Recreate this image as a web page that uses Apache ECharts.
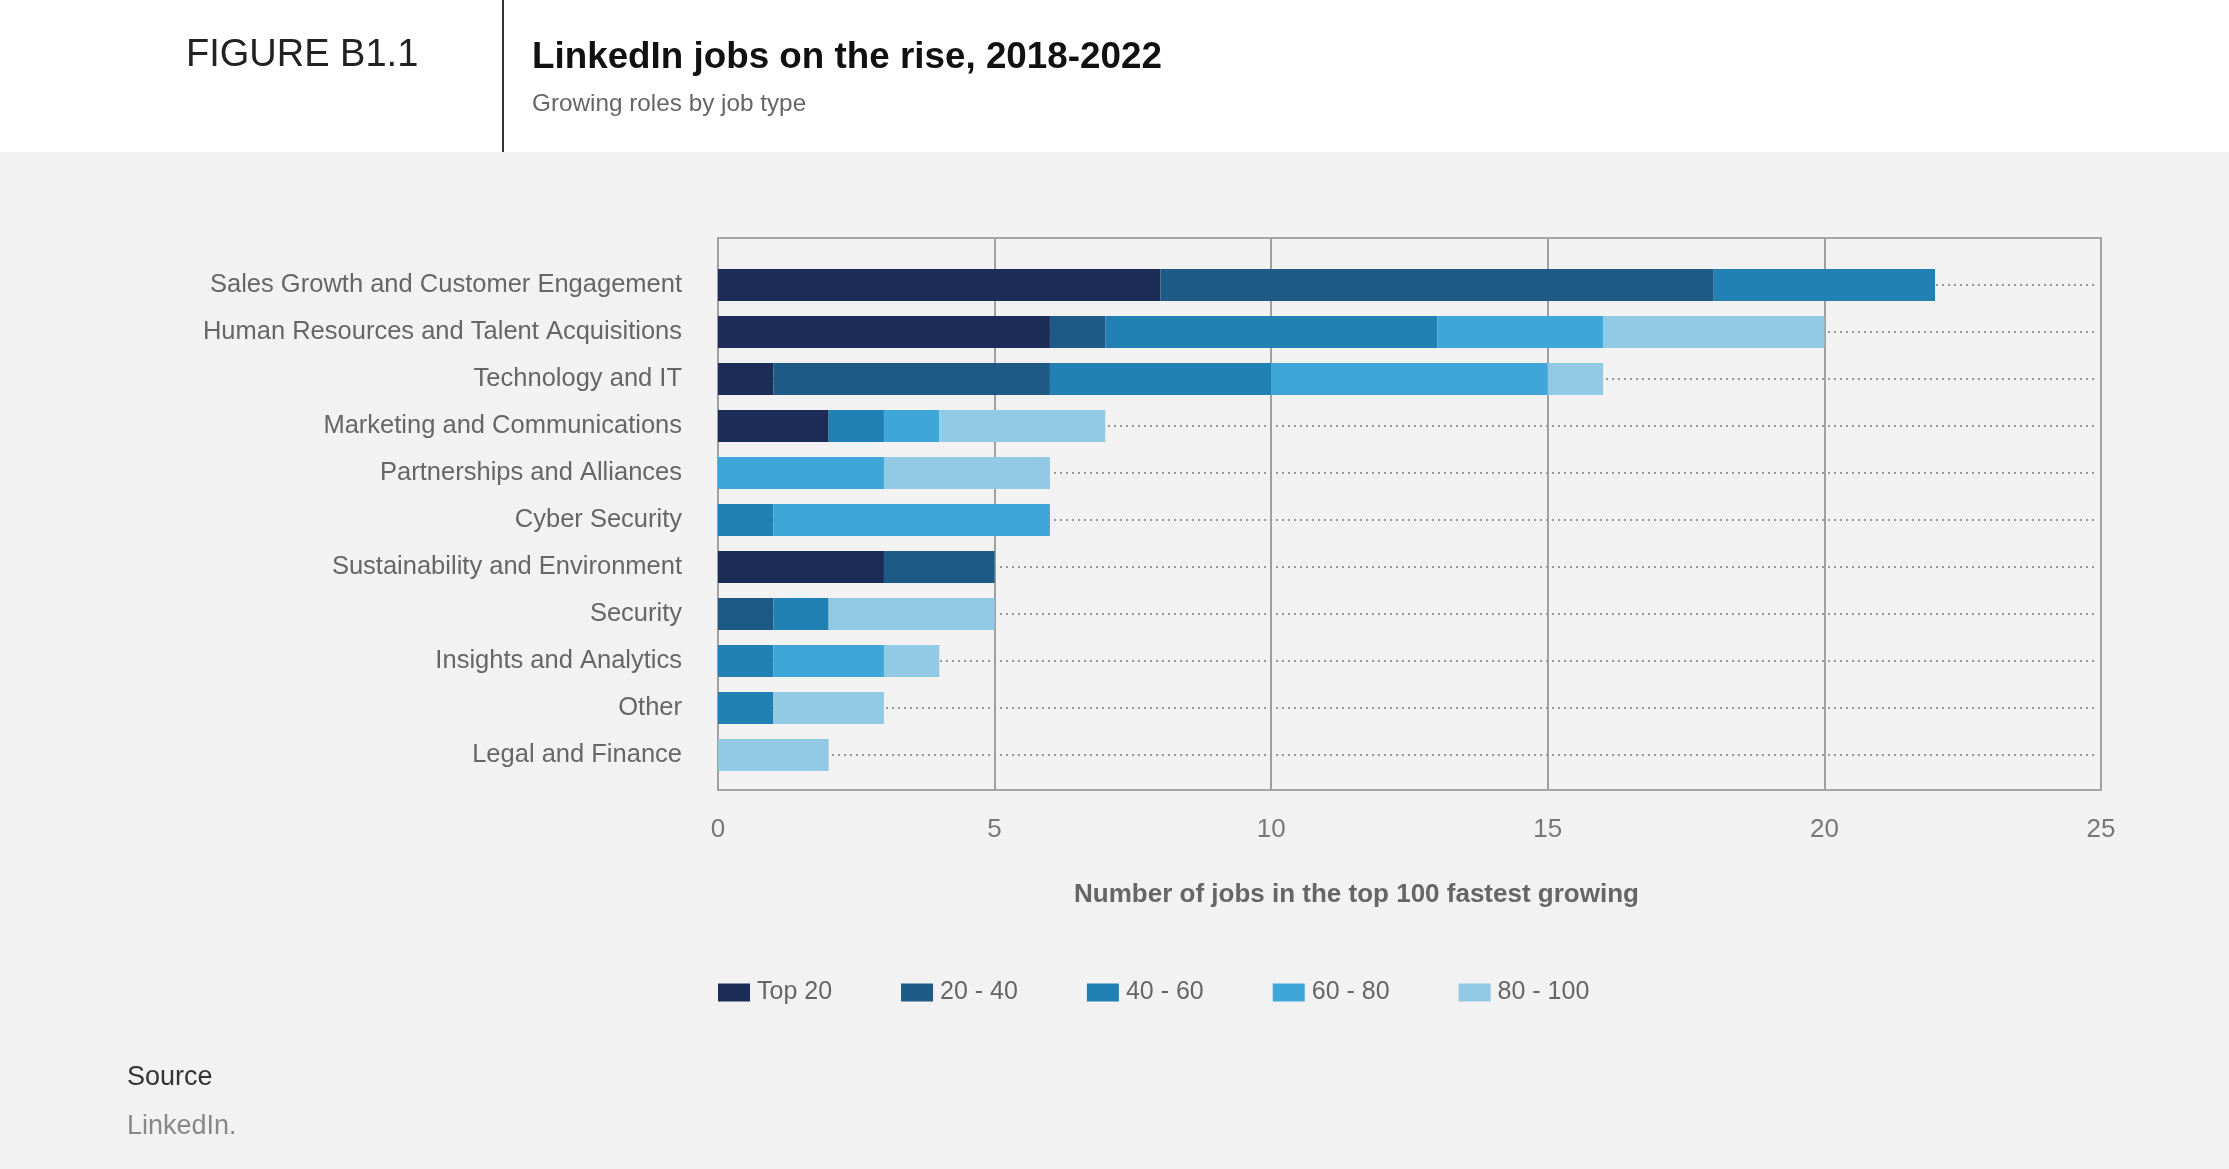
<!DOCTYPE html>
<html>
<head>
<meta charset="utf-8">
<script src="https://cdn.jsdelivr.net/npm/echarts@6/dist/echarts.min.js"></script>
<style>
html,body{margin:0;padding:0;background:#f2f2f2;}
#chart{width:2229px;height:1169px;}
</style>
</head>
<body>
<div id="chart"></div>
<script>
// ---- Data ----
const categories = [
  "Sales Growth and Customer Engagement",
  "Human Resources and Talent Acquisitions",
  "Technology and IT",
  "Marketing and Communications",
  "Partnerships and Alliances",
  "Cyber Security",
  "Sustainability and Environment",
  "Security",
  "Insights and Analytics",
  "Other",
  "Legal and Finance"
];
const seriesNames = ["Top 20", "20 - 40", "40 - 60", "60 - 80", "80 - 100"];
const top20   = [8, 6, 1, 2, 0, 0, 3, 0, 0, 0, 0];
const r20to40 = [10, 1, 5, 0, 0, 0, 2, 1, 0, 0, 0];
const r40to60 = [4, 6, 4, 1, 0, 1, 0, 1, 1, 1, 0];
const r60to80 = [0, 3, 5, 1, 3, 5, 0, 0, 2, 0, 0];
const r80to100 = [0, 4, 1, 3, 3, 0, 0, 3, 1, 2, 2];
const xTicks = [0, 5, 10, 15, 20, 25];

const colors = ["#1b2d56", "#1d5a85", "#2181b5", "#3fa6d9", "#92c9e4"];
const seriesData = [top20, r20to40, r40to60, r60to80, r80to100];

const FONT = "'Liberation Sans', Arial, Helvetica, sans-serif";

const chart = echarts.init(document.getElementById('chart'), null, {renderer: 'canvas'});

const series = seriesNames.map((name, i) => {
  const s = {
    name: name,
    type: 'bar',
    stack: 'total',
    xAxisIndex: 0,
    yAxisIndex: 0,
    barWidth: 32,
    data: seriesData[i],
    itemStyle: {color: colors[i]},
    emphasis: {disabled: true},
    z: 3
  };
  if (i === 0) {
    s.markLine = {
      silent: true,
      symbol: ['none', 'none'],
      z: 1,
      label: {show: false},
      lineStyle: {type: [2, 4], color: '#9a9a9a', width: 2},
      emphasis: {disabled: true},
      data: categories.map(c => [{coord: [xTicks[0], c]}, {coord: [xTicks[xTicks.length - 1] - 0.1, c]}])
    };
  }
  return s;
});

const option = {
  backgroundColor: '#f2f2f2',
  animation: false,
  textStyle: {fontFamily: FONT},
  graphic: [
    {type: 'rect', left: 0, top: 0, z: 0, shape: {width: 2229, height: 152}, style: {fill: '#ffffff'}},
    {type: 'line', z: 1, shape: {x1: 503, y1: 0, x2: 503, y2: 152}, style: {stroke: '#333333', lineWidth: 2}}
  ],
  title: [
    {text: 'FIGURE B1.1', left: 186, top: 37, padding: 0,
      textStyle: {fontSize: 38, fontWeight: 'normal', color: '#222', fontFamily: FONT, lineHeight: 38}},
    {text: 'LinkedIn jobs on the rise, 2018-2022', left: 532, top: 39, padding: 0,
      textStyle: {fontSize: 36.8, fontWeight: 'bold', color: '#111', fontFamily: FONT, lineHeight: 37}},
    {text: 'Growing roles by job type', left: 532, top: 92, padding: 0,
      textStyle: {fontSize: 24.3, fontWeight: 'normal', color: '#666', fontFamily: FONT, lineHeight: 24}},
    {text: 'Source', left: 127, top: 1064, padding: 0,
      textStyle: {fontSize: 27, fontWeight: 'normal', color: '#333', fontFamily: FONT, lineHeight: 27}},
    {text: 'LinkedIn.', left: 127, top: 1113, padding: 0,
      textStyle: {fontSize: 27, fontWeight: 'normal', color: '#888', fontFamily: FONT, lineHeight: 27}}
  ],
  legend: {
    data: seriesNames,
    left: 713,
    top: 975,
    itemWidth: 32,
    itemHeight: 18,
    itemGap: 69,
    icon: 'rect',
    selectedMode: false,
    textStyle: {fontSize: 25, color: '#666', fontFamily: FONT, padding: [0, 0, 0, 2]}
  },
  grid: [
    {left: 718, width: 1383, top: 261.5, height: 517, containLabel: false},
    {left: 718, width: 1383, top: 238, height: 552, show: true, borderColor: '#a6a6a6', borderWidth: 2, backgroundColor: 'transparent', containLabel: false}
  ],
  xAxis: [
    {type: 'value', gridIndex: 0, min: xTicks[0], max: xTicks[xTicks.length - 1], interval: 5, show: false},
    {type: 'value', gridIndex: 1, min: xTicks[0], max: xTicks[xTicks.length - 1], interval: 5,
      axisLine: {show: false}, axisTick: {show: false},
      axisLabel: {fontSize: 26, color: '#777', margin: 27, fontFamily: FONT},
      splitLine: {show: true, lineStyle: {color: '#a0a0a0', width: 2}},
      name: 'Number of jobs in the top 100 fastest growing',
      nameLocation: 'middle',
      nameGap: 92,
      nameTextStyle: {fontSize: 26, fontWeight: 'bold', color: '#666', fontFamily: FONT, padding: [0, 106, 0, 0]}
    }
  ],
  yAxis: [
    {type: 'category', gridIndex: 0, data: categories, inverse: true,
      axisLine: {show: false}, axisTick: {show: false}, splitLine: {show: false},
      axisLabel: {fontSize: 25.5, color: '#666', margin: 36, fontFamily: FONT}
    },
    {type: 'value', gridIndex: 1, min: 0, max: 1, show: false, splitLine: {show: false}}
  ],
  series: series
};

chart.setOption(option);
</script>
</body>
</html>
